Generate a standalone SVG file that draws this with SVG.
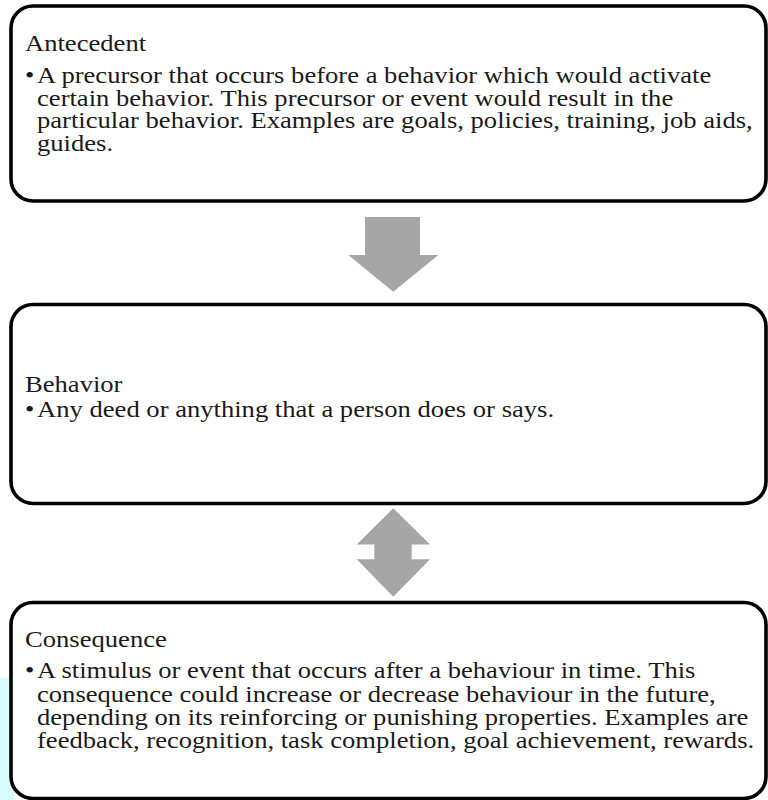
<svg xmlns="http://www.w3.org/2000/svg" width="768" height="800" viewBox="0 0 768 800">
<style>
.box{fill:#ffffff;stroke:#000000;stroke-width:3.6}
.arr{fill:#a6a6a6}
</style>
<rect x="0" y="0" width="768" height="800" fill="#ffffff"/>
<rect x="0" y="678" width="14" height="122" fill="#d6fcfc"/>
<g id="antecedent">
<rect class="box" x="11" y="6" width="755" height="195" rx="22" ry="22"/>
<g transform="scale(1.157,1)" font-family="Liberation Serif" font-size="23" fill="#1a1a1a">
<text x="21.6" y="51.5">Antecedent</text>
<text x="21.6" y="83">•</text>
<text x="32" y="83">A precursor that occurs before a behavior which would activate</text>
<text x="32" y="106">certain behavior. This precursor or event would result in the</text>
<text x="32" y="128.5">particular behavior. Examples are goals, policies, training, job aids,</text>
<text x="32" y="151">guides.</text>
</g>
</g>
<g id="behavior">
<rect class="box" x="11" y="304.5" width="755" height="199" rx="22" ry="22"/>
<g transform="scale(1.157,1)" font-family="Liberation Serif" font-size="23" fill="#1a1a1a">
<text x="21.6" y="392">Behavior</text>
<text x="21.6" y="417">•</text>
<text x="32" y="417">Any deed or anything that a person does or says.</text>
</g>
</g>
<g id="consequence">
<rect class="box" x="11" y="602.5" width="755" height="196" rx="22" ry="22"/>
<g transform="scale(1.157,1)" font-family="Liberation Serif" font-size="23" fill="#1a1a1a">
<text x="21.6" y="647">Consequence</text>
<text x="21.6" y="678">•</text>
<text x="32" y="678">A stimulus or event that occurs after a behaviour in time. This</text>
<text x="32" y="702">consequence could increase or decrease behaviour in the future,</text>
<text x="32" y="725">depending on its reinforcing or punishing properties. Examples are</text>
<text x="32" y="748.5">feedback, recognition, task completion, goal achievement, rewards.</text>
</g>
</g>
<g id="connectors">
<polygon class="arr" points="365,217 420,217 420,255 438.3,255 393.3,291.7 348.3,255 365,255"/>
<polygon class="arr" points="393.3,508.3 430,544.5 411.7,544.5 411.7,559.3 430,559.3 393.3,596.7 356.7,559.3 374.3,559.3 374.3,544.5 356.7,544.5"/>
</g>
</svg>
